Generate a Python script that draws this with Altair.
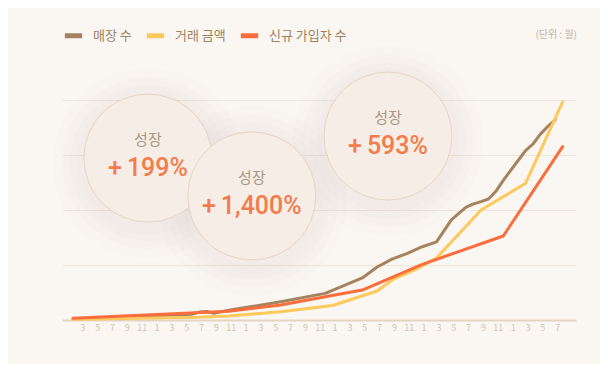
import altair as alt
import pandas as pd

FONT = "Noto Sans CJK KR"

series_names = ["매장 수", "거래 금액", "신규 가입자 수"]
series_colors = ["#A6835F", "#FDC95C", "#FB6D3D"]

# month index: 0 = Jan of first year
store_months = [0, 8, 16, 17, 18, 19, 21, 28, 34, 39, 41, 43, 45, 47, 49, 50, 51, 52, 53, 54, 55, 56, 57, 58, 59, 60, 61, 62, 63, 64, 65]
store_values = [0.6, 1.5, 2.6, 3.6, 3.9, 3.1, 4.4, 8.3, 12.1, 19.1, 24.1, 27.7, 30.2, 33.2, 35.5, 40.5, 45.5, 48.5, 51.3, 52.8, 53.8, 55.0, 58.5, 63.5, 68.0, 72.5, 77.0, 80.0, 84.5, 88.0, 91.0]

trade_months = [0, 17, 21, 28, 35, 41, 43, 46, 49, 55, 61, 66]
trade_values = [0.3, 1.2, 1.8, 3.8, 6.6, 13.2, 18.2, 22.7, 28.2, 50.0, 62.1, 99.2]

member_months = [0, 12, 21, 28, 34, 39, 47, 58, 66]
member_values = [0.8, 2.6, 4.0, 6.8, 10.6, 13.6, 25.2, 38.2, 78.8]

tick_months = list(range(2, 67, 2))
tick_labels = [str(m % 12 + 1) for m in tick_months]
grid_values = [25, 50, 75, 100]

circle_x = [10.1, 24.1, 42.45]
circle_y = [73.6, 56.4, 83.6]
circle_label = ["성장", "성장", "성장"]
circle_value = ["+\u2009199%", "+\u20091,400%", "+\u2009593%"]

unit_text = ["(단위 : 월)"]

rows = []
for name, ms, vs in zip(series_names,
                        [store_months, trade_months, member_months],
                        [store_values, trade_values, member_values]):
    for m, v in zip(ms, vs):
        rows.append({"series": name, "m": m, "v": v})
df = pd.DataFrame(rows)

cdf = pd.DataFrame({"m": circle_x, "v": circle_y, "label": circle_label, "value": circle_value})
tdf = pd.DataFrame({"m": tick_months, "t": tick_labels})
udf = pd.DataFrame({"t": unit_text})

xs = alt.Scale(domain=[-1.48, 67.8], nice=False, zero=False)
ys = alt.Scale(domain=[0, 100], nice=False)

x_axis = alt.Axis(values=tick_months, labels=False, title=None,
                  grid=False, ticks=False, domainColor="#E3D3C1", domainWidth=2)
y_axis = alt.Axis(values=grid_values, title=None, labels=False, ticks=False, domain=False,
                  grid=True, gridColor="#EEE4DA", gridWidth=1.2)

cx = alt.X("m:Q", scale=xs, axis=x_axis)
cy = alt.Y("v:Q", scale=ys, axis=y_axis)

lines = alt.Chart(df).mark_line(strokeWidth=3, strokeJoin="round", strokeCap="round").encode(
    x=cx, y=cy,
    color=alt.Color("series:N", scale=alt.Scale(domain=series_names, range=series_colors),
                    legend=alt.Legend(orient="none", legendX=0, legendY=-76, direction="horizontal",
                                      title=None, symbolType="stroke", symbolStrokeWidth=5,
                                      symbolSize=300, labelFontSize=13, labelColor="#A0815F",
                                      labelFont=FONT, columnPadding=4, labelOffset=8)),
    order=alt.Order("m:Q"),
)

ticks = alt.Chart(tdf).mark_text(fontSize=9, color="#D3C3B1", font=FONT, dx=-5, baseline="middle").encode(
    x=cx, y=alt.value(228), text="t:N")

shadows = []
for d in [190, 172, 156, 142]:
    shadows.append(alt.Chart(cdf).mark_point(shape="circle", filled=True, size=d * d,
                                             color="#D5C2B1", opacity=0.045, yOffset=5).encode(x=cx, y=cy))

circles = alt.Chart(cdf).mark_point(shape="circle", filled=True, size=128 * 128, fill="#F6EEE6",
                                    stroke="#E6D5C3", strokeWidth=1, opacity=1).encode(x=cx, y=cy)

lab = alt.Chart(cdf).mark_text(dy=-18, fontSize=15, color="#A99684", font=FONT).encode(
    x=cx, y=cy, text="label:N")
val = alt.Chart(cdf).mark_text(dy=10, fontSize=25, color="#F47B4B", font="Roboto", fontWeight=500).encode(
    x=cx, y=cy, text="value:N")

unit = alt.Chart(udf).mark_text(align="right", baseline="middle", fontSize=10, color="#C4B3A2", font=FONT).encode(
    x=alt.value(515), y=alt.value(-65), text="t:N")

chart = alt.layer(lines, ticks, *shadows, circles, lab, val, unit).properties(
    width=514, height=220,
    autosize=alt.AutoSizeParams(type="none"),
    padding={"left": 54, "top": 92, "right": 24, "bottom": 44},
).configure(background="#FAF7F3").configure_view(stroke=None)

chart.save("out.html", embed_options={"renderer": "svg", "actions": False})
